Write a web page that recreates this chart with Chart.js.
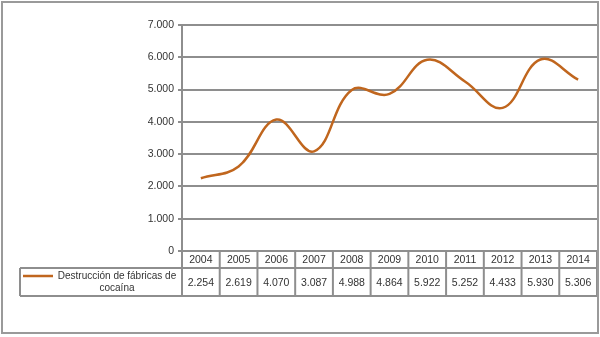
<!DOCTYPE html>
<html>
<head>
<meta charset="utf-8">
<script src="https://cdn.jsdelivr.net/npm/chart.js@4/dist/chart.umd.min.js"></script>
<style>
  html, body { margin: 0; padding: 0; background: #fff; }
  #wrap { width: 600px; height: 337px; position: relative; }
</style>
</head>
<body>
<div id="wrap"><canvas id="chart" width="600" height="337"></canvas></div>
<script>
const years = ["2004", "2005", "2006", "2007", "2008", "2009", "2010", "2011", "2012", "2013", "2014"];
const fabricas = [2254, 2619, 4070, 3087, 4988, 4864, 5922, 5252, 4433, 5930, 5306];
const seriesName = ["Destrucción de fábricas de", "cocaína"];
const yTicks = [0, 1000, 2000, 3000, 4000, 5000, 6000, 7000];

const lineColor = "#c0661e";
const gridColor = "#8e8e8e";
const textColor = "#333";
const font = "Liberation Sans, Arial, sans-serif";

function fmt(n) {
  return n.toLocaleString("de-DE");
}

// data table under the plot, Excel style
const tablePlugin = {
  id: "dataTable",
  afterDraw(chart) {
    const ctx = chart.ctx;
    const area = chart.chartArea;
    const n = years.length;
    const w = (area.right - area.left) / n;
    const top = area.bottom;
    const mid = top + 17;
    const bot = top + 45;
    const legLeft = 20;

    ctx.save();
    ctx.strokeStyle = gridColor;
    ctx.lineWidth = 2;
    ctx.beginPath();
    // horizontal lines
    ctx.moveTo(area.left, top); ctx.lineTo(area.right, top);
    ctx.moveTo(legLeft, mid); ctx.lineTo(area.right, mid);
    ctx.moveTo(legLeft, bot); ctx.lineTo(area.right, bot);
    // vertical lines
    ctx.moveTo(legLeft, mid); ctx.lineTo(legLeft, bot);
    for (let i = 0; i <= n; i++) {
      const x = area.left + i * w;
      ctx.moveTo(x, top); ctx.lineTo(x, bot);
    }
    ctx.stroke();

    ctx.fillStyle = textColor;
    ctx.font = "10.5px " + font;
    ctx.textAlign = "center";
    ctx.textBaseline = "middle";
    years.forEach((y, i) => {
      const x = chart.scales.x.getPixelForValue(i);
      ctx.fillText(y, x, (top + mid) / 2 + 1);
      ctx.fillText(fmt(fabricas[i]), x, (mid + bot) / 2 + 1);
    });

    // legend key
    ctx.strokeStyle = lineColor;
    ctx.lineWidth = 2.5;
    ctx.beginPath();
    ctx.moveTo(23, mid + 8); ctx.lineTo(53, mid + 8);
    ctx.stroke();
    ctx.font = "10px " + font;
    ctx.fillText(seriesName[0], 117, mid + 8);
    ctx.fillText(seriesName[1], 117, mid + 20);

    // outer frame
    ctx.strokeStyle = "#9a9a9a";
    ctx.lineWidth = 2;
    ctx.strokeRect(2, 2, 596, 331);
    ctx.restore();
  }
};

new Chart(document.getElementById("chart"), {
  type: "line",
  data: {
    labels: years,
    datasets: [{
      label: seriesName.join(" "),
      data: fabricas,
      borderColor: lineColor,
      borderWidth: 2.5,
      pointRadius: 0,
      tension: 0.4,
      fill: false
    }]
  },
  options: {
    responsive: false,
    animation: false,
    layout: { padding: { left: 0, right: 3, top: 25, bottom: 86 } },
    plugins: { legend: { display: false }, tooltip: { enabled: false } },
    scales: {
      x: { display: false, offset: true },
      y: {
        min: 0,
        max: 7000,
        afterBuildTicks: s => { s.ticks = yTicks.map(v => ({ value: v })); },
        afterFit: s => { s.width = 182; },
        grid: { color: gridColor, lineWidth: 2, tickLength: 4 },
        border: { color: gridColor, width: 2 },
        ticks: {
          color: textColor,
          font: { family: font, size: 10.5 },
          padding: 4,
          callback: v => fmt(v)
        }
      }
    }
  },
  plugins: [tablePlugin]
});
</script>
</body>
</html>
